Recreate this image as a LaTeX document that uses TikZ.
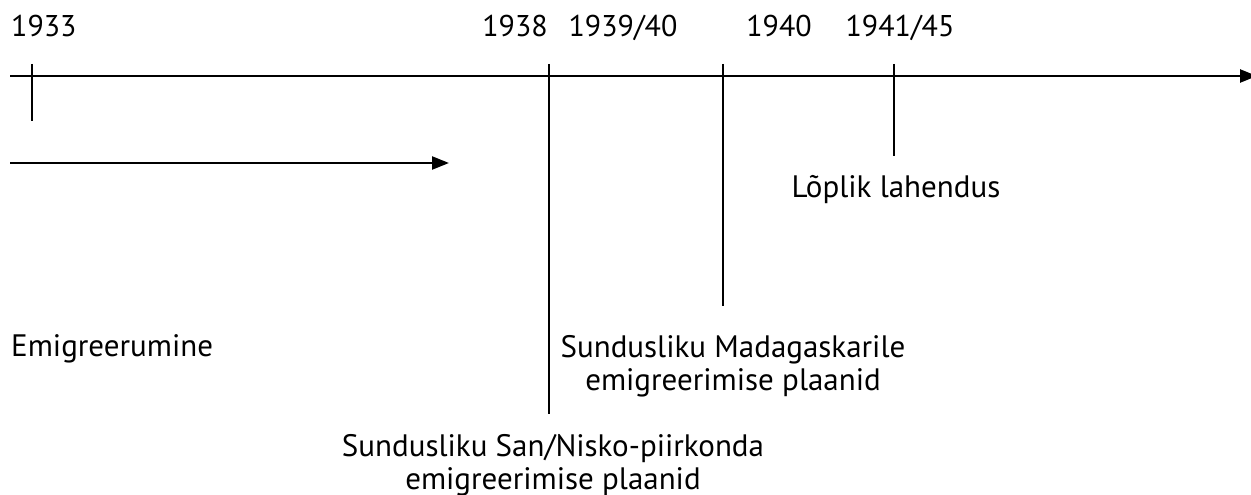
\documentclass[tikz,border=0pt]{standalone}
\usepackage{fontspec}
\setmainfont{PT Sans}
\usetikzlibrary{arrows.meta}
\begin{document}
\begin{tikzpicture}[x=1pt,y=-1pt,
  tickline/.style={line width=2.4pt},
  arrowline/.style={line width=2.4pt,-{Triangle[length=17pt,width=13pt]}},
  yearlbl/.style={inner sep=0pt,anchor=base,font=\fontsize{30}{33}\selectfont},
  txtlbl/.style={inner sep=0pt,font=\fontsize{31}{33}\selectfont,align=center}]
\useasboundingbox (0,0) rectangle (1251,495);
\clip (0,0) rectangle (1251,495);
% axis
\coordinate (axstart) at (10,76);
\coordinate (axend) at (1257,76);
\draw[arrowline] (axstart) -- (axend);
% ticks
\coordinate (t33a) at (32,64);   \coordinate (t33b) at (32,121);
\coordinate (t38a) at (549,64);  \coordinate (t38b) at (549,414);
\coordinate (t40a) at (723,64);  \coordinate (t40b) at (723,306);
\coordinate (t41a) at (894,64);  \coordinate (t41b) at (894,156);
\draw[tickline] (t33a) -- (t33b);
\draw[tickline] (t38a) -- (t38b);
\draw[tickline] (t40a) -- (t40b);
\draw[tickline] (t41a) -- (t41b);
% emigration arrow
\coordinate (emA) at (10,163);
\coordinate (emB) at (449,163);
\draw[arrowline] (emA) -- (emB);
% year labels
\node[yearlbl,anchor=base west] (y33) at (11,37) {1933};
\node[yearlbl] (y38) at (515,37) {1938};
\node[yearlbl] (y3940) at (623,37) {1939/40};
\node[yearlbl] (y40) at (779,37) {1940};
\node[yearlbl] (y4145) at (900,37) {1941/45};
% texts
\node[txtlbl,anchor=base west] (emig) at (11,356) {Emigreerumine};
\node[txtlbl,anchor=base] (lop) at (896,197) {Lõplik lahendus};
\node[txtlbl,anchor=north] (mad) at (733,335) {Sundusliku Madagaskarile\\emigreerimise plaanid};
\node[txtlbl,anchor=north] (san) at (553,434) {Sundusliku San/Nisko-piirkonda\\emigreerimise plaanid};
\end{tikzpicture}
\end{document}
